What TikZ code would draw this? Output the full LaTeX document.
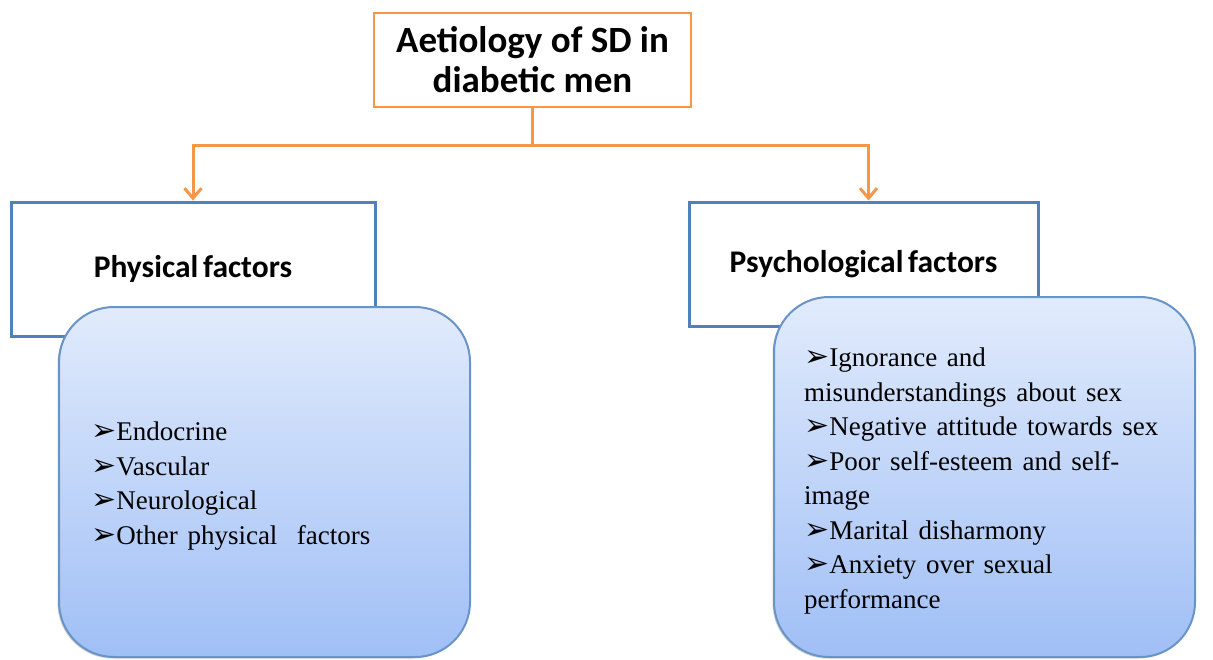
\documentclass[tikz,border=0pt]{standalone}
\usepackage{fontspec}
\setmainfont{Liberation Serif}
\newfontfamily\headfont{Carlito}
\newfontfamily\symfont{DejaVu Sans}
\usetikzlibrary{arrows.meta, positioning, shadows}

\definecolor{sdorange}{HTML}{F79646}
\definecolor{sdblue}{HTML}{4F81BD}
\definecolor{listtop}{HTML}{E1EBFC}
\definecolor{listbot}{HTML}{A0BFF6}
\newcommand{\bul}{{\symfont\fontsize{30}{20}\selectfont ➢}}
\newcommand{\widespaces}{\spaceskip=0.36em plus 0.1em\relax}
\newcommand{\tightspaces}{\spaceskip=0.15em\relax}

\begin{document}
\begin{tikzpicture}[x=1pt, y=-1pt,
    titlebox/.style={draw=sdorange, line width=2.5pt, fill=white, minimum width=317pt, minimum height=94pt,
      align=center, font=\headfont\bfseries\fontsize{37}{40}\selectfont},
    factorbox/.style={draw=sdblue, line width=3pt, fill=white, align=center,
      font=\headfont\bfseries\fontsize{31.5}{34}\selectfont\tightspaces},
    listbox/.style={draw=sdblue!85, line width=2pt, rounded corners=55pt, top color=listtop, bottom color=listbot,
      drop shadow={shadow xshift=-1.5pt, shadow yshift=-1.5pt, opacity=0.35}},
    itemtext/.style={align=left, inner sep=0pt, font=\fontsize{27}{34.5}\selectfont\widespaces},
    conn/.style={draw=sdorange, line width=3pt, -{Straight Barb[length=10pt, width=17pt]}}]
\useasboundingbox (0,0) rectangle (1213,659);

% top box
\node[titlebox] (title) at (532.5,60) {Aetiology of SD in\\diabetic men};

% the two factor headers
\node[factorbox, minimum width=364pt, minimum height=134pt] (phys) at (193,269) {Physical factors};
\node[factorbox, minimum width=349pt, minimum height=124pt] (psych) at (863.5,264) {Psychological factors};

% lists
\node[listbox, minimum width=411pt, minimum height=350pt] (physlist) at (264.5,482) {};
\node[listbox, minimum width=421pt, minimum height=360pt] (psychlist) at (984.5,477) {};
\node[itemtext, anchor=west] (physitems) at ([xshift=33pt, yshift=-4pt]physlist.west)
  {\bul Endocrine\\\bul Vascular\\\bul Neurological\\\bul Other physical\ \ factors};
\node[itemtext, anchor=west] (psychitems) at ([xshift=31pt, yshift=-4pt]psychlist.west)
  {\bul Ignorance and\\misunderstandings about sex\\\bul Negative attitude towards sex\\\bul Poor self-esteem and self-\\image\\\bul Marital disharmony\\\bul Anxiety over sexual\\performance};

% connectors
\coordinate (split) at ([yshift=-37pt]title.south);
\draw[draw=sdorange, line width=3pt] (title.south) -- (split);
\draw[conn] (split) -| (phys.north);
\draw[conn] (split) -| ([xshift=5pt]psych.north);
\end{tikzpicture}
\end{document}
